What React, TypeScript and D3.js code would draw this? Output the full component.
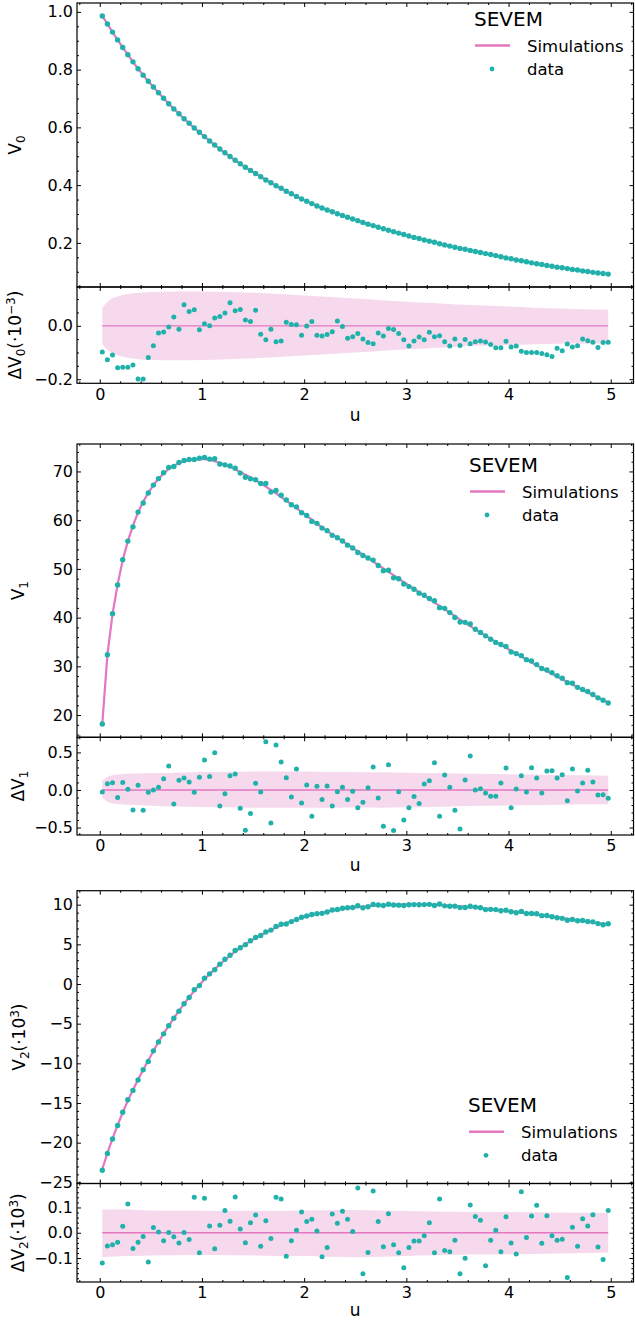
import React, { useEffect, useRef } from "react";
import * as d3 from "d3";

const FONT = "DejaVu Sans, sans-serif";
const PINK = "#e377c2";
const TEAL = "#20b2aa";
const W = 635;
const H = 1321;
const LEFT = 77;
const RIGHT = 633.5;

// threshold values u
const u = [
  0.025, 0.075, 0.125, 0.175, 0.225, 0.275, 0.325, 0.375, 0.425, 0.475,
  0.525, 0.575, 0.625, 0.675, 0.725, 0.775, 0.825, 0.875, 0.925, 0.975,
  1.025, 1.075, 1.125, 1.175, 1.225, 1.275, 1.325, 1.375, 1.425, 1.475,
  1.525, 1.575, 1.625, 1.675, 1.725, 1.775, 1.825, 1.875, 1.925, 1.975,
  2.025, 2.075, 2.125, 2.175, 2.225, 2.275, 2.325, 2.375, 2.425, 2.475,
  2.525, 2.575, 2.625, 2.675, 2.725, 2.775, 2.825, 2.875, 2.925, 2.975,
  3.025, 3.075, 3.125, 3.175, 3.225, 3.275, 3.325, 3.375, 3.425, 3.475,
  3.525, 3.575, 3.625, 3.675, 3.725, 3.775, 3.825, 3.875, 3.925, 3.975,
  4.025, 4.075, 4.125, 4.175, 4.225, 4.275, 4.325, 4.375, 4.425, 4.475,
  4.525, 4.575, 4.625, 4.675, 4.725, 4.775, 4.825, 4.875, 4.925, 4.975,
];

// simulation means
const simV0 = [
  0.986, 0.958, 0.93, 0.903, 0.877, 0.852, 0.827, 0.803, 0.781, 0.76,
  0.74, 0.72, 0.701, 0.682, 0.664, 0.647, 0.63, 0.614, 0.598, 0.583,
  0.568, 0.553, 0.539, 0.525, 0.512, 0.499, 0.486, 0.474, 0.462, 0.451,
  0.44, 0.429, 0.418, 0.408, 0.398, 0.389, 0.379, 0.37, 0.361, 0.352,
  0.344, 0.336, 0.328, 0.321, 0.314, 0.308, 0.301, 0.295, 0.289, 0.283,
  0.277, 0.271, 0.265, 0.26, 0.254, 0.249, 0.244, 0.239, 0.234, 0.229,
  0.224, 0.219, 0.215, 0.21, 0.206, 0.202, 0.197, 0.193, 0.189, 0.185,
  0.181, 0.178, 0.174, 0.17, 0.167, 0.163, 0.16, 0.156, 0.152, 0.148,
  0.145, 0.141, 0.138, 0.135, 0.131, 0.128, 0.125, 0.122, 0.119, 0.116,
  0.114, 0.111, 0.108, 0.106, 0.103, 0.101, 0.098, 0.096, 0.094, 0.092,
];
const simV1 = [
  18.2, 32.3, 40.7, 46.8, 51.8, 55.7, 58.9, 61.6, 63.8, 65.6,
  67.2, 68.5, 69.6, 70.5, 71.2, 71.7, 72.1, 72.35, 72.5, 72.55,
  72.5, 72.35, 72.1, 71.75, 71.4, 70.95, 70.45, 69.9, 69.35, 68.8,
  68.2, 67.55, 66.9, 66.2, 65.5, 64.75, 64.0, 63.25, 62.45, 61.7,
  60.9, 60.1, 59.3, 58.5, 57.8, 57.1, 56.4, 55.7, 55.0, 54.3,
  53.6, 52.9, 52.2, 51.5, 50.8, 50.1, 49.4, 48.7, 48.0, 47.3,
  46.6, 45.9, 45.2, 44.5, 43.8, 43.1, 42.4, 41.7, 41.0, 40.3,
  39.6, 38.9, 38.25, 37.6, 36.95, 36.3, 35.65, 35.0, 34.4, 33.8,
  33.2, 32.6, 32.0, 31.4, 30.8, 30.2, 29.6, 29.0, 28.45, 27.9,
  27.35, 26.8, 26.25, 25.7, 25.15, 24.6, 24.1, 23.6, 23.1, 22.6,
];
const simV2 = [
  -23.35, -21.3, -19.5, -17.8, -16.2, -14.7, -13.35, -12.05, -10.8, -9.65,
  -8.45, -7.3, -6.25, -5.25, -4.3, -3.38, -2.5, -1.67, -0.87, -0.12,
  0.6, 1.25, 1.87, 2.47, 3.03, 3.57, 4.08, 4.55, 5.0, 5.42,
  5.8, 6.17, 6.5, 6.82, 7.12, 7.4, 7.66, 7.9, 8.12, 8.33,
  8.52, 8.7, 8.86, 9.0, 9.13, 9.25, 9.36, 9.46, 9.55, 9.63,
  9.7, 9.76, 9.82, 9.87, 9.91, 9.95, 9.98, 10.0, 10.02, 10.03,
  10.04, 10.04, 10.03, 10.02, 10.0, 9.98, 9.95, 9.92, 9.88, 9.84,
  9.79, 9.74, 9.69, 9.63, 9.57, 9.51, 9.44, 9.37, 9.3, 9.23,
  9.15, 9.07, 8.99, 8.91, 8.83, 8.74, 8.66, 8.57, 8.48, 8.39,
  8.3, 8.21, 8.12, 8.03, 7.94, 7.85, 7.76, 7.67, 7.58, 7.5,
];

// data - simulations (residual units as in the axis labels)
const dV0 = [
  -0.098, -0.127, -0.109, -0.157, -0.155, -0.155, -0.147, -0.199, -0.199, -0.119,
  -0.075, -0.027, -0.023, -0.004, 0.033, -0.013, 0.079, 0.054, 0.06, -0.015,
  0.008, 0.0, 0.029, 0.035, 0.048, 0.086, 0.056, 0.061, 0.022, 0.016,
  0.058, -0.032, -0.052, -0.013, -0.06, -0.057, 0.013, 0.005, 0.004, -0.035,
  -0.001, 0.016, -0.035, -0.038, -0.033, -0.022, 0.018, -0.003, -0.047, -0.041,
  -0.029, -0.049, -0.063, -0.067, -0.027, -0.038, -0.01, -0.014, -0.029, -0.052,
  -0.076, -0.057, -0.042, -0.052, -0.024, -0.041, -0.037, -0.06, -0.076, -0.049,
  -0.074, -0.051, -0.067, -0.06, -0.057, -0.061, -0.07, -0.082, -0.082, -0.058,
  -0.079, -0.076, -0.095, -0.1, -0.1, -0.1, -0.104, -0.108, -0.115, -0.084,
  -0.093, -0.068, -0.079, -0.075, -0.049, -0.056, -0.062, -0.081, -0.063, -0.062,
];
const dV1 = [
  -0.027, 0.084, 0.097, -0.1, 0.1, 0.009, -0.265, 0.062, -0.27, -0.031,
  0.0, 0.035, 0.15, 0.319, -0.186, 0.128, 0.159, 0.106, -0.031, 0.168,
  0.398, 0.181, 0.496, -0.212, -0.049, 0.19, 0.212, -0.243, -0.535, -0.314,
  0.088, -0.027, 0.642, -0.438, 0.597, 0.372, 0.164, -0.093, 0.279, -0.173,
  0.066, -0.35, 0.049, -0.128, 0.053, -0.212, -0.022, 0.035, -0.128, -0.018,
  -0.235, -0.164, 0.031, 0.305, -0.106, -0.482, 0.336, -0.54, -0.022, -0.398,
  -0.235, -0.088, -0.181, 0.08, 0.124, 0.363, -0.35, 0.199, 0.035, -0.27,
  -0.518, 0.133, 0.451, 0.0, 0.018, -0.04, -0.084, -0.084, 0.093, 0.292,
  -0.235, 0.013, 0.19, -0.027, 0.296, 0.159, -0.04, 0.252, 0.257, 0.159,
  0.204, -0.142, 0.279, -0.013, 0.093, 0.261, 0.106, -0.066, -0.062, -0.11,
];
const dV2 = [
  -0.12, -0.052, -0.047, -0.038, 0.026, 0.114, -0.062, -0.038, -0.015, -0.116,
  0.021, 0.003, -0.032, 0.001, -0.016, -0.041, 0.001, -0.027, 0.14, -0.079,
  0.136, 0.027, -0.063, 0.03, 0.088, 0.045, 0.141, 0.015, -0.04, 0.04,
  0.07, -0.053, 0.047, -0.023, 0.14, 0.133, -0.093, -0.032, 0.01, 0.082,
  0.044, 0.053, 0.007, -0.095, -0.058, 0.074, 0.038, 0.085, 0.053, 0.005,
  0.177, -0.162, -0.078, 0.165, 0.044, -0.055, 0.075, -0.047, -0.079, -0.138,
  -0.058, -0.033, -0.033, -0.012, 0.04, -0.079, 0.133, -0.07, -0.075, -0.03,
  -0.162, -0.101, 0.11, 0.064, 0.049, -0.13, -0.03, 0.01, -0.075, 0.063,
  -0.041, -0.084, 0.162, -0.019, 0.066, 0.109, -0.042, 0.067, -0.012, -0.03,
  -0.026, -0.177, 0.022, -0.053, 0.055, 0.027, 0.071, -0.056, -0.106, 0.088,
];

// simulation scatter band (u nodes)
const bandU = [
  0.025, 0.1, 0.2, 0.35, 0.5, 0.75, 1.0, 1.25, 1.5, 1.75, 2.0, 2.25,
  2.5, 2.75, 3.0, 3.25, 3.5, 3.75, 4.0, 4.25, 4.5, 4.75, 4.975,
];
const bandV0Hi = [
  0.068, 0.098, 0.113, 0.123, 0.127, 0.129, 0.129, 0.127, 0.124, 0.119, 0.114, 0.108,
  0.102, 0.096, 0.09, 0.085, 0.08, 0.076, 0.072, 0.068, 0.065, 0.062, 0.06,
];
const bandV0Lo = [
  -0.068, -0.098, -0.113, -0.123, -0.128, -0.129, -0.128, -0.125, -0.122, -0.117, -0.111, -0.106,
  -0.1, -0.094, -0.088, -0.083, -0.078, -0.075, -0.072, -0.069, -0.067, -0.066, -0.065,
];
const bandV1Hi = [
  0.12, 0.19, 0.21, 0.22, 0.225, 0.23, 0.24, 0.24, 0.245, 0.245, 0.245, 0.24,
  0.24, 0.235, 0.23, 0.225, 0.22, 0.215, 0.21, 0.205, 0.2, 0.195, 0.19,
];
const bandV1Lo = [
  -0.1, -0.17, -0.19, -0.2, -0.21, -0.22, -0.225, -0.23, -0.235, -0.235, -0.235, -0.235,
  -0.23, -0.235, -0.23, -0.225, -0.215, -0.21, -0.205, -0.2, -0.195, -0.19, -0.19,
];
const bandV2Hi = [
  0.093, 0.092, 0.093, 0.09, 0.088, 0.087, 0.087, 0.086, 0.087, 0.086, 0.088, 0.089,
  0.09, 0.088, 0.086, 0.084, 0.083, 0.082, 0.082, 0.081, 0.08, 0.079, 0.078,
];
const bandV2Lo = [
  -0.096, -0.095, -0.093, -0.092, -0.09, -0.089, -0.088, -0.089, -0.09, -0.092, -0.092, -0.095,
  -0.097, -0.095, -0.092, -0.089, -0.087, -0.086, -0.085, -0.084, -0.082, -0.08, -0.078,
];

const xExt = d3.extent(u) as [number, number];
const pad = (e: [number, number]): [number, number] => {
  const r = e[1] - e[0];
  return [e[0] - 0.05 * r, e[1] + 0.05 * r];
};
const x = d3.scaleLinear().domain(pad(xExt)).range([LEFT, RIGHT]);

const stepTicks = (dom: number[], step: number) => {
  const [a, b] = d3.extent(dom) as [number, number];
  const s = Math.ceil(a / step - 1e-9);
  const e = Math.floor(b / step + 1e-9);
  return d3.range(s, e + 1).map((k) => +(k * step).toFixed(6));
};
const minorTicks = (dom: number[], step: number, major: number[]) =>
  stepTicks(dom, step).filter((v) => !major.some((m) => Math.abs(m - v) < 1e-9));

function Frame({ y, yStep, yMinor, yFmt, xLabels }: any) {
  const ref = useRef<SVGGElement>(null);
  useEffect(() => {
    const g = d3.select(ref.current);
    g.selectAll("*").remove();
    const [yb, yt] = y.range();
    const xMaj = stepTicks(x.domain(), 1);
    const xMin = minorTicks(x.domain(), 0.2, xMaj);
    const yMaj = stepTicks(y.domain(), yStep);
    const yMin = minorTicks(y.domain(), yMinor, yMaj);
    const none = () => "";
    const add = (axis: any, tx: number, ty: number) => {
      const a = g.append("g").attr("transform", `translate(${tx},${ty})`).call(axis);
      a.select(".domain").remove();
      a.attr("font-size", 16).attr("font-family", FONT);
      a.selectAll("line").attr("stroke", "#000").attr("stroke-width", 1);
      a.selectAll("text").attr("fill", "#000");
    };
    add(d3.axisBottom(x).tickValues(xMaj).tickSize(-4).tickPadding(5)
      .tickFormat(xLabels ? d3.format("d") : none), 0, yb);
    add(d3.axisBottom(x).tickValues(xMin).tickSize(-2).tickFormat(none), 0, yb);
    add(d3.axisTop(x).tickValues(xMaj).tickSize(-4).tickFormat(none), 0, yt);
    add(d3.axisTop(x).tickValues(xMin).tickSize(-2).tickFormat(none), 0, yt);
    add(d3.axisLeft(y).tickValues(yMaj).tickSize(-4).tickPadding(4).tickFormat(yFmt), LEFT, 0);
    add(d3.axisLeft(y).tickValues(yMin).tickSize(-2).tickFormat(none), LEFT, 0);
    add(d3.axisRight(y).tickValues(yMaj).tickSize(-4).tickFormat(none), RIGHT, 0);
    add(d3.axisRight(y).tickValues(yMin).tickSize(-2).tickFormat(none), RIGHT, 0);
    g.append("rect")
      .attr("x", LEFT).attr("y", yt)
      .attr("width", RIGHT - LEFT).attr("height", yb - yt)
      .attr("fill", "none").attr("stroke", "#000").attr("stroke-width", 1.2);
  }, [y, yStep, yMinor, yFmt, xLabels]);
  return <g ref={ref} />;
}

function YLabel({ x0, yc, children }: any) {
  return (
    <text
      transform={`translate(${x0},${yc}) rotate(-90)`}
      textAnchor="middle"
      fontFamily={FONT}
      fontSize={17}
      fill="#000"
    >
      {children}
    </text>
  );
}

function Legend({ lx, ly }: any) {
  return (
    <g fontFamily={FONT} fill="#000">
      <text x={lx} y={ly} fontSize={20}>SEVEM</text>
      <line x1={lx + 1} x2={lx + 36} y1={ly + 19.5} y2={ly + 19.5} stroke={PINK} strokeWidth={2.5} />
      <text x={lx + 53} y={ly + 26} fontSize={16.5}>Simulations</text>
      <circle cx={lx + 18} cy={ly + 43} r={2.4} fill={TEAL} />
      <text x={lx + 53} y={ly + 49} fontSize={16.5}>data</text>
    </g>
  );
}

function Panel(p: any) {
  const { top, mid, bottom, sim, delta, k, bandHi, bandLo, mainStep, mainMinor, mainFmt,
    resStep, resMinor, mainLabel, resLabel, mainLabelX, resLabelX, lx, ly, uGap } = p;
  const data = sim.map((s: number, i: number) => s + delta[i] * k);
  const yMain = d3.scaleLinear().domain(pad(d3.extent([...sim, ...data]) as [number, number])).range([mid, top]);
  const yRes = d3.scaleLinear()
    .domain(pad(d3.extent([...delta, ...bandHi, ...bandLo]) as [number, number]))
    .range([bottom, mid]);
  const line = d3.line<number>().x((_, i) => x(u[i])).y((d) => yMain(d));
  const band = d3.area<number>()
    .x((_, i) => x(bandU[i]))
    .y0((_, i) => yRes(bandLo[i]))
    .y1((d) => yRes(d))
    .curve(d3.curveMonotoneX);
  return (
    <g>
      <path d={line(sim) || ""} fill="none" stroke={PINK} strokeWidth={2.2} />
      {data.map((d: number, i: number) => (
        <circle key={i} cx={x(u[i])} cy={yMain(d)} r={2.7} fill={TEAL} />
      ))}
      <path d={band(bandHi) || ""} fill={PINK} fillOpacity={0.28} />
      <line x1={x(u[0])} x2={x(u[u.length - 1])} y1={yRes(0)} y2={yRes(0)} stroke={PINK} strokeWidth={1.3} />
      {delta.map((d: number, i: number) => (
        <circle key={i} cx={x(u[i])} cy={yRes(d)} r={2.5} fill={TEAL} />
      ))}
      <Frame y={yMain} yStep={mainStep} yMinor={mainMinor} yFmt={mainFmt} xLabels={false} />
      <Frame y={yRes} yStep={resStep} yMinor={resMinor} yFmt={d3.format(".1f")} xLabels={true} />
      <YLabel x0={mainLabelX} yc={(top + mid) / 2}>{mainLabel}</YLabel>
      <YLabel x0={resLabelX} yc={(mid + bottom) / 2}>{resLabel}</YLabel>
      <text x={(LEFT + RIGHT) / 2} y={bottom + uGap} textAnchor="middle" fontFamily={FONT} fontSize={17}>u</text>
      <Legend lx={lx} ly={ly} />
    </g>
  );
}

export default function App() {
  return (
    <svg width={W} height={H} style={{ position: "absolute", left: 0, top: 0, background: "#fff" }}>
      <Panel
        top={3} mid={287} bottom={383.3} uGap={38}
        sim={simV0} delta={dV0} k={0.001} bandHi={bandV0Hi} bandLo={bandV0Lo}
        mainStep={0.2} mainMinor={0.05} mainFmt={d3.format(".1f")}
        resStep={0.2} resMinor={0.05}
        mainLabelX={20.5} resLabelX={21}
        mainLabel={<>V<tspan fontSize={12} dy={4}>0</tspan></>}
        resLabel={<>ΔV<tspan fontSize={12} dy={4}>0</tspan><tspan dy={-4}>(·10</tspan><tspan fontSize={12} dy={-6}>−3</tspan><tspan dy={6}>)</tspan></>}
        lx={474} ly={26}
      />
      <Panel
        top={444} mid={737.3} bottom={835} uGap={36}
        sim={simV1} delta={dV1} k={1} bandHi={bandV1Hi} bandLo={bandV1Lo}
        mainStep={10} mainMinor={2} mainFmt={d3.format("d")}
        resStep={0.5} resMinor={0.1}
        mainLabelX={24} resLabelX={24}
        mainLabel={<>V<tspan fontSize={12} dy={4}>1</tspan></>}
        resLabel={<>ΔV<tspan fontSize={12} dy={4}>1</tspan></>}
        lx={469} ly={472}
      />
      <Panel
        top={890.7} mid={1183.5} bottom={1282} uGap={34}
        sim={simV2} delta={dV2} k={1} bandHi={bandV2Hi} bandLo={bandV2Lo}
        mainStep={5} mainMinor={1} mainFmt={d3.format("d")}
        resStep={0.1} resMinor={0.02}
        mainLabelX={25} resLabelX={24}
        mainLabel={<>V<tspan fontSize={12} dy={4}>2</tspan><tspan dy={-4}>(·10</tspan><tspan fontSize={12} dy={-6}>3</tspan><tspan dy={6}>)</tspan></>}
        resLabel={<>ΔV<tspan fontSize={12} dy={4}>2</tspan><tspan dy={-4}>(·10</tspan><tspan fontSize={12} dy={-6}>3</tspan><tspan dy={6}>)</tspan></>}
        lx={468} ly={1112.3}
      />
    </svg>
  );
}
